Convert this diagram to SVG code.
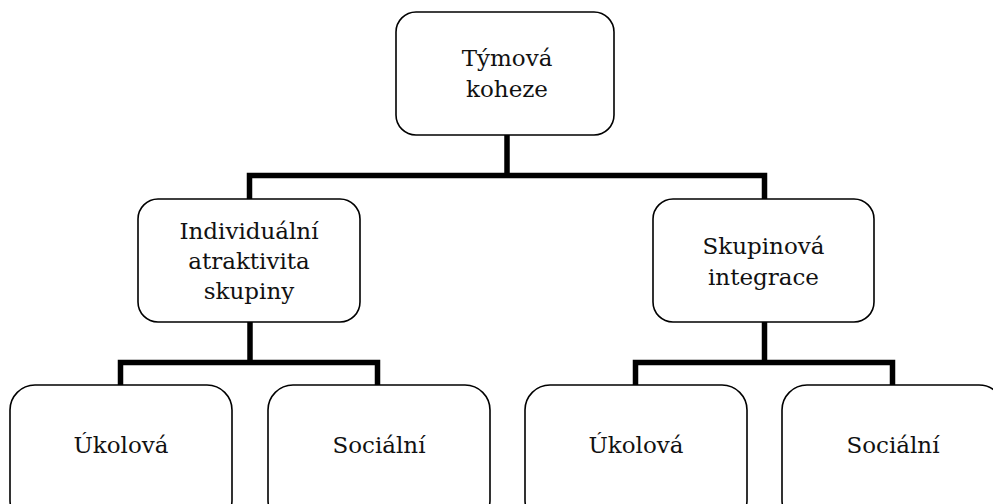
<svg xmlns="http://www.w3.org/2000/svg" width="993" height="504" viewBox="0 0 993 504">
<style>
.box{fill:#fff;stroke:#000;stroke-width:1.6}
.lbl{font-family:"DejaVu Serif","Liberation Serif",serif;font-size:23px;fill:#111;text-anchor:middle}
.con{fill:none;stroke:#000;stroke-width:5.5;stroke-linejoin:miter;stroke-linecap:butt}
</style>
<rect width="993" height="504" fill="#fff"/>
<g id="connectors">
<path class="con" d="M507 135 V175.5"/>
<path class="con" d="M249.5 199 V175.5 H764.5 V199"/>
<path class="con" d="M250 322 V362.5"/>
<path class="con" d="M120.5 385 V362.5 H377.5 V385"/>
<path class="con" d="M764.5 322 V362.5"/>
<path class="con" d="M635.5 385 V362.5 H892.5 V385"/>
</g>
<g id="n-root">
<rect class="box" x="396" y="12" width="218" height="123" rx="20"/>
<text class="lbl" x="507" y="66">Týmová</text>
<text class="lbl" x="507" y="97">koheze</text>
</g>
<g id="n-individualni">
<rect class="box" x="138" y="199" width="222" height="123" rx="20"/>
<text class="lbl" x="249" y="239">Individuální</text>
<text class="lbl" x="249" y="269">atraktivita</text>
<text class="lbl" x="249" y="299">skupiny</text>
</g>
<g id="n-skupinova">
<rect class="box" x="653" y="199" width="221" height="123" rx="20"/>
<text class="lbl" x="763.5" y="254">Skupinová</text>
<text class="lbl" x="763.5" y="285">integrace</text>
</g>
<g id="n-ukolova1">
<rect class="box" x="10" y="385" width="222" height="140" rx="25"/>
<text class="lbl" x="121" y="453">Úkolová</text>
</g>
<g id="n-socialni1">
<rect class="box" x="268" y="385" width="222" height="140" rx="25"/>
<text class="lbl" x="379" y="453">Sociální</text>
</g>
<g id="n-ukolova2">
<rect class="box" x="525" y="385" width="222" height="140" rx="25"/>
<text class="lbl" x="636" y="453">Úkolová</text>
</g>
<g id="n-socialni2">
<rect class="box" x="782" y="385" width="222" height="140" rx="25"/>
<text class="lbl" x="893" y="453">Sociální</text>
</g>
</svg>
